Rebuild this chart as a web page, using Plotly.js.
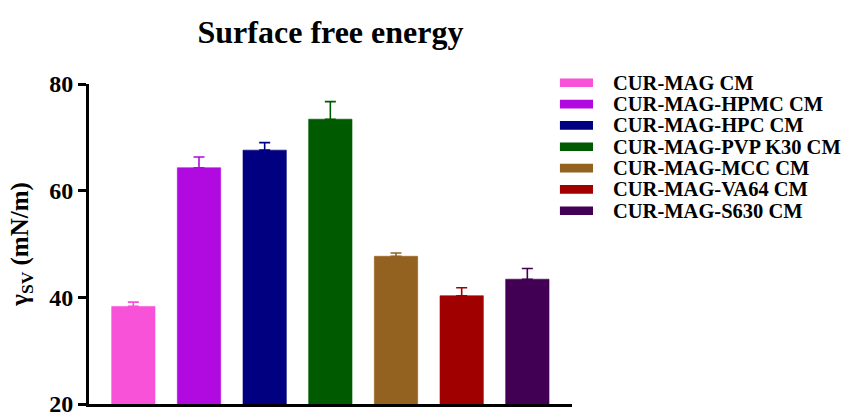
<!DOCTYPE html>
<html>
<head>
<meta charset="utf-8">
<script src="https://cdn.plot.ly/plotly-3.0.1.min.js"></script>
<style>html,body{margin:0;padding:0;background:#fff;overflow:hidden;}#chart{width:841px;height:435px;}</style>
</head>
<body>
<div id="chart"></div>
<script>
// Data
const categories = ["CUR-MAG CM", "CUR-MAG-HPMC CM", "CUR-MAG-HPC CM", "CUR-MAG-PVP K30 CM", "CUR-MAG-MCC CM", "CUR-MAG-VA64 CM", "CUR-MAG-S630 CM"];
const values = [38.3, 64.3, 67.6, 73.4, 47.7, 40.3, 43.4];
const errors = [0.8, 2.0, 1.4, 3.3, 0.6, 1.5, 2.0];
const colors = ["#F752D8", "#B00AE0", "#000080", "#005A00", "#946220", "#A00000", "#420055"];
const yTicks = [20, 40, 60, 80];

const serif = "Liberation Serif, Times New Roman, serif";

const traces = categories.map((c, i) => ({
  type: "bar",
  x: [i],
  y: [values[i]],
  name: c,
  width: 0.66,
  marker: {color: colors[i], line: {width: 0.6, color: colors[i]}},
  error_y: {type: "data", symmetric: false, array: [errors[i]], arrayminus: [0], color: colors[i], thickness: 1.6, width: 5.5},
  showlegend: false,
  hoverinfo: "skip"
}));

// Custom legend (wide rectangle swatches)
const shapes = [];
const annotations = [];
const legX0 = 0.975, legX1 = 1.0435, legTextX = 1.081;
const legY0 = 1.004, legStep = 0.0667;
categories.forEach((c, i) => {
  const yc = legY0 - i * legStep;
  shapes.push({type: "rect", xref: "paper", yref: "paper", x0: legX0, x1: legX1, y0: yc - 0.0135, y1: yc + 0.0135,
    fillcolor: colors[i], line: {width: 0}});
  annotations.push({xref: "paper", yref: "paper", x: legTextX, y: yc, xanchor: "left", yanchor: "middle",
    text: c, showarrow: false, font: {family: serif, size: 20.5, color: "#000", weight: "bold"}});
});

const layout = {
  width: 841, height: 435,
  margin: {l: 89, r: 269, t: 84, b: 31},
  paper_bgcolor: "#fff", plot_bgcolor: "#fff",
  barmode: "overlay",
  title: {text: "Surface free energy", x: 0.5, xref: "paper", y: 1 - 32 / 435, yref: "container", yanchor: "middle",
    font: {family: serif, size: 32, color: "#000", weight: "bold"}},
  xaxis: {range: [-0.675, 6.68], showticklabels: false, ticks: "", showgrid: false, zeroline: false,
    showline: true, linecolor: "#000", linewidth: 3, fixedrange: true},
  yaxis: {range: [20, 80], tickvals: yTicks, ticktext: yTicks.map(String), ticks: "outside", ticklen: 8, tickwidth: 3,
    tickcolor: "#000", showgrid: false, zeroline: false, showline: true, linecolor: "#000", linewidth: 3,
    tickfont: {family: serif, size: 24, color: "#000", weight: "bold"},
    title: {text: "γ<sub>SV</sub> (mN/m)", standoff: 14, font: {family: serif, size: 25, color: "#000", weight: "bold"}}},
  shapes: shapes,
  annotations: annotations,
  showlegend: false
};

Plotly.newPlot("chart", traces, layout, {staticPlot: true, displayModeBar: false});
</script>
</body>
</html>
